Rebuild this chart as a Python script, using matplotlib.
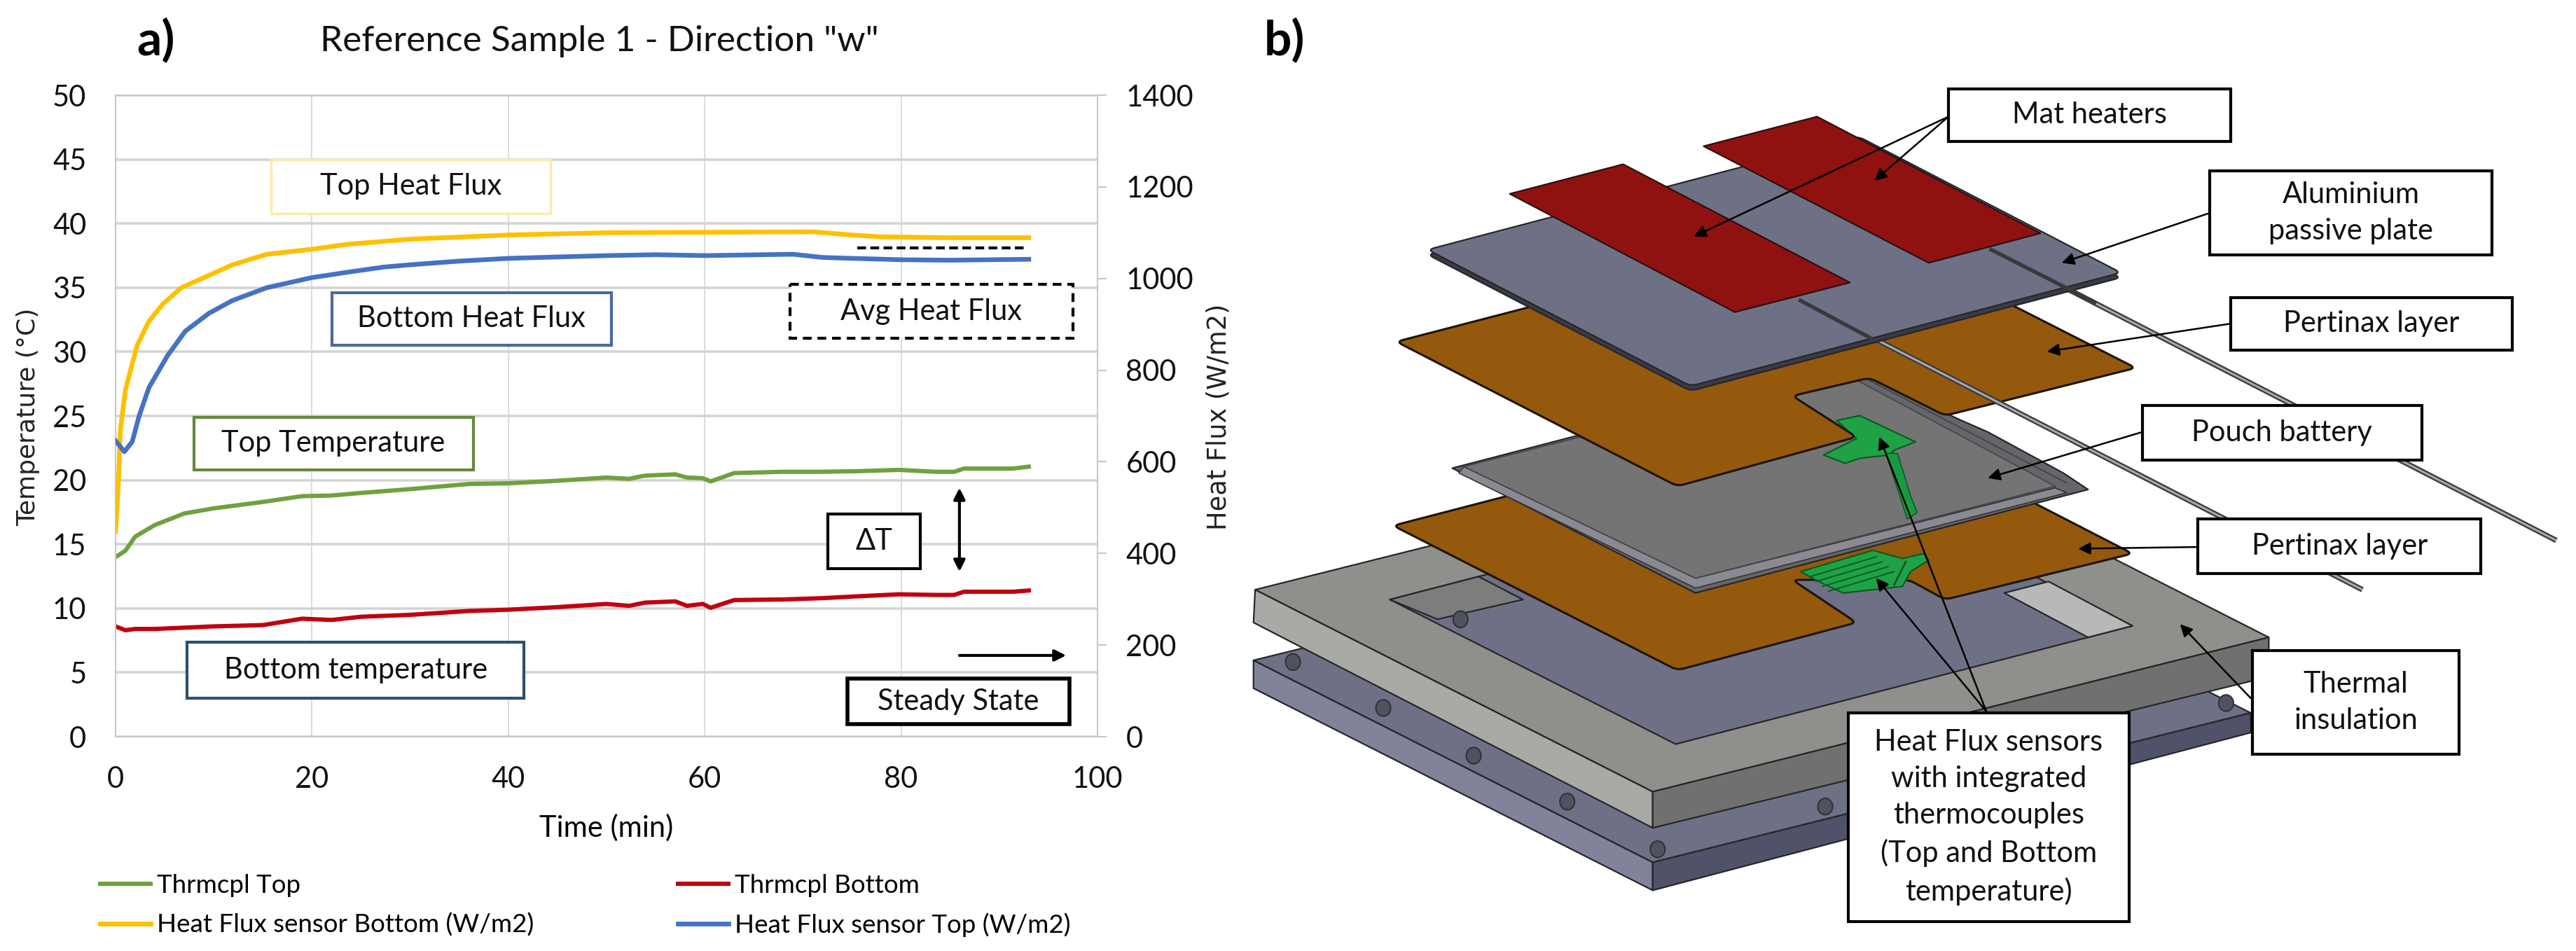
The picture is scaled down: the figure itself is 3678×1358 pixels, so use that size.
import numpy as np
import matplotlib
matplotlib.use('Agg')
import matplotlib.pyplot as plt
from matplotlib.patches import Polygon, Rectangle, Ellipse, PathPatch
from matplotlib.path import Path

plt.rcParams['font.family'] = ['Lato', 'DejaVu Sans']

# values
t_temp = [0, 1, 2, 4, 7, 10, 15, 19, 22, 25, 30, 36, 40, 45, 50, 52.3, 53.9, 57, 58.2, 59.8, 60.6, 63, 68, 72, 75.7, 79.8, 83.5, 85.4, 86.4, 91.4, 93]
temp_top = [14, 14.5, 15.6, 16.5, 17.4, 17.8, 18.3, 18.75, 18.8, 19, 19.3, 19.7, 19.75, 19.95, 20.2, 20.1, 20.35, 20.45, 20.2, 20.15, 19.9, 20.55, 20.65, 20.65, 20.7, 20.8, 20.65, 20.65, 20.9, 20.9, 21.05]
temp_bottom = [8.6, 8.3, 8.4, 8.4, 8.5, 8.6, 8.7, 9.2, 9.1, 9.35, 9.5, 9.8, 9.9, 10.1, 10.35, 10.2, 10.45, 10.55, 10.2, 10.35, 10.05, 10.65, 10.7, 10.8, 10.95, 11.1, 11.05, 11.05, 11.3, 11.3, 11.4]

t_yellow = [0, 0.3, 0.5, 1, 1.6, 2.2, 3.4, 4.8, 6.7, 8.8, 11.9, 15.4, 20, 23.7, 27.3, 30, 40, 50, 60, 71, 75, 78, 85, 93]
flux_yellow = [448, 560, 672, 756, 806, 854, 907, 944, 980, 1000, 1030, 1053, 1064, 1075, 1081, 1086, 1095, 1100, 1101, 1102, 1095, 1091, 1089, 1089]

t_blue = [0, 0.9, 1.7, 2.4, 3.4, 5.3, 7.1, 9.5, 11.9, 15.4, 20, 23.7, 27.3, 30, 35, 40, 50, 55, 60, 66, 69, 72, 75, 80, 85, 93]
flux_blue = [646, 622, 644, 700, 762, 832, 885, 924, 952, 980, 1002, 1014, 1025, 1030, 1038, 1044, 1050, 1052, 1050, 1052, 1053, 1046, 1044, 1041, 1040, 1042]

x_ticks = [0, 20, 40, 60, 80, 100]
temp_ticks = [0, 5, 10, 15, 20, 25, 30, 35, 40, 45, 50]
flux_ticks = [0, 200, 400, 600, 800, 1000, 1200, 1400]

W, H = 3678, 1358
FS = 30
GREEN, RED, YELLOW, BLUE = '#70a040', '#c00010', '#ffc000', '#4472c4'

fig = plt.figure(figsize=(W/100, H/100), dpi=100)
ax = fig.add_axes([165/W, 1-1052/H, (1567-165)/W, (1052-136)/H])
ax.set_xlim(0, 100)
ax.set_ylim(0, 50)
ax.set_xticks(x_ticks)
ax.set_yticks(temp_ticks)
ax.grid(True, axis='y', color='#d4d4d4', lw=2.6)
ax.grid(True, axis='x', color='#d4d4d4', lw=1.2)
ax.set_axisbelow(True)
for s in ax.spines.values():
    s.set_color('#c8c8c8')
    s.set_linewidth(1.5)
ax.tick_params(axis='y', length=0, labelsize=FS, pad=30, labelcolor='#111111')
ax.tick_params(axis='x', length=0, labelsize=FS, pad=30, labelcolor='#111111')
l_top, = ax.plot(t_temp, temp_top, color=GREEN, lw=4.4)
l_bot, = ax.plot(t_temp, temp_bottom, color=RED, lw=4.4)

ax2 = ax.twinx()
ax2.set_ylim(0, 1400)
ax2.set_yticks(flux_ticks)
ax2.tick_params(axis='y', length=9, width=1.5, color='#c8c8c8', labelsize=FS, pad=20, labelcolor='#111111')
for s in ax2.spines.values():
    s.set_visible(False)
l_y, = ax2.plot(t_yellow, flux_yellow, color=YELLOW, lw=4.8)
l_b, = ax2.plot(t_blue, flux_blue, color=BLUE, lw=4.8)

ax.set_xlabel('Time (min)', fontsize=FS, labelpad=22)

leg = fig.legend([l_top, l_y, l_bot, l_b],
                 ['Thrmcpl Top', 'Heat Flux sensor Bottom (W/m2)', 'Thrmcpl Bottom', 'Heat Flux sensor Top (W/m2)'],
                 ncol=2, frameon=False, fontsize=26.5, loc='lower left', bbox_to_anchor=(143/W, 1-1338/H),
                 handlelength=1.95, handletextpad=0.25, columnspacing=5.6, labelspacing=0.6,
                 borderaxespad=0, borderpad=0)

# everything else is placed on a sheet in reference screen units
k = W/1568
ov = fig.add_axes([0, 0, 1, 1])
ov.set_xlim(0, 1568)
ov.set_ylim(H/k, 0)
ov.axis('off')
ov.patch.set_alpha(0)


def poly(pts, fc, ec='#26262a', lw=1.6, z=2):
    ov.add_patch(Polygon(pts, closed=True, fc=fc, ec=ec, lw=lw, zorder=z, joinstyle='round'))


def rounded(pts, fc, ec='#1c1408', lw=2.2, r=4, z=2):
    # polygon with small curved corners, like the CAD sheets
    p = np.array(pts, float)
    verts, codes = [], []
    n = len(p)
    for i in range(n):
        a, b, c = p[i-1], p[i], p[(i+1) % n]
        u = (a-b)/np.linalg.norm(a-b)
        v = (c-b)/np.linalg.norm(c-b)
        verts += [b+u*r, b, b+v*r]
        codes += [Path.MOVETO if i == 0 else Path.LINETO, Path.CURVE3, Path.CURVE3]
    verts.append(verts[0])
    codes.append(Path.CLOSEPOLY)
    ov.add_patch(PathPatch(Path(verts, codes), fc=fc, ec=ec, lw=lw, zorder=z))


def box(x0, y0, x1, y1, text, ec='black', lw=3, ls='-', fs=FS):
    ov.add_patch(Rectangle((x0, y0), x1-x0, y1-y0, fc='white', ec=ec, lw=lw, ls=ls, zorder=20))
    ov.text((x0+x1)/2, (y0+y1)/2, text, ha='center', va='center', fontsize=fs, color='#111111',
            zorder=21, linespacing=1.45)


def arrow(x0, y0, x1, y1, style='-|>', lw=1.8, ms=26):
    ov.annotate('', xy=(x1, y1), xytext=(x0, y0), zorder=15,
                arrowprops=dict(arrowstyle=style, color='black', lw=lw, mutation_scale=ms,
                                shrinkA=0, shrinkB=0))


# panel a annotations
ov.text(95, 25, 'a)', fontsize=50, fontweight='bold', ha='center', va='center')
ov.text(782, 25, 'b)', fontsize=50, fontweight='bold', ha='center', va='center')
ov.text(365, 25, 'Reference Sample 1 - Direction "w"', fontsize=37, ha='center', va='center', color='#111111')
ov.text(17, 254, 'Temperature (°C)', fontsize=26, rotation=90, ha='center', va='center',
        family='DejaVu Sans', color='#222222')
ov.text(742, 254, 'Heat Flux (W/m2)', fontsize=26.5, rotation=90, ha='center', va='center',
        family='DejaVu Sans', color='#222222')

box(165, 97, 335, 130, 'Top Heat Flux', ec='#ffe9a8', lw=2.5)
box(202, 178, 372, 210, 'Bottom Heat Flux', ec='#4a6a9c')
box(481, 173, 653, 206, 'Avg Heat Flux', ls=(0, (3, 2)))
box(118, 254, 288, 286, 'Top Temperature', ec='#64893f')
box(504, 313, 560, 346, 'ΔT')
box(114, 391, 319, 425, 'Bottom temperature', ec='#2c4f70')
box(516, 413, 651, 441, 'Steady State', lw=4)
ov.plot([522, 624], [151, 151], color='black', lw=3, ls=(0, (3, 1.5)), zorder=15)
arrow(584, 297, 584, 348, style='<|-|>', lw=3, ms=24)
arrow(584, 399, 649, 399, lw=3, ms=24)

# panel b, exploded view of the stack
BLUEGREY, BLUESIDE, BLUEDARK = '#6e7186', '#80839a', '#50526a'
# base plate
poly([(763, 402), (1127, 312), (1370, 434), (1006, 525)], BLUEGREY, z=2)
poly([(763, 402), (1006, 525), (1006, 542), (763, 419)], BLUESIDE, z=2)
poly([(1006, 525), (1370, 434), (1370, 446), (1006, 542)], BLUEDARK, z=2)
for bx, by in [(787, 403), (842, 431), (897, 460), (954, 488), (1009, 517), (1111, 491), (1355, 428)]:
    ov.add_patch(Ellipse((bx, by), 9, 10, fc='#50535f', ec='#30323a', lw=1.5, zorder=3))
# insulation frame
poly([(764, 359), (1139, 265), (1381, 388), (1006, 482)], '#8f8f8b', z=4)
poly([(764, 359), (1006, 482), (1006, 504), (763, 379)], '#a9aaa5', z=4)
poly([(1006, 482), (1381, 388), (1381, 412), (1006, 504)], '#707070', z=4)
poly([(846, 365), (1124, 293), (1298, 381), (1020, 453)], BLUEGREY, z=5)
poly([(846, 365), (900, 351), (927, 365), (875, 377)], '#7d7d7d', z=5)
poly([(1220, 361), (1247, 354), (1298, 381), (1271, 388)], '#b8b8b8', z=5)
ov.add_patch(Ellipse((889, 377), 9, 10, fc='#50535f', ec='#30323a', lw=1.5, zorder=5))
# lower pertinax
PERT = '#94590c'
rounded([(848, 320), (1125, 248), (1298, 337), (1184, 365), (1162, 353), (1091, 353), (1130, 379), (1021, 408)], PERT, z=6)
# lower sensor
poly([(1096, 348), (1140, 335), (1158, 340), (1171, 337), (1174, 341), (1163, 348), (1158, 357), (1140, 359), (1122, 361), (1109, 355)],
     '#1fa245', ec='#0d5a24', z=7)
for off in range(0, 24, 6):
    ov.plot([1102+off*0.6, 1142+off*0.6], [351+off*0.5, 339+off*0.5], color='#0d5a24', lw=1.4, zorder=7)
ov.plot([1153, 1160], [356, 342], color='#0d5a24', lw=2, zorder=7)
# battery, outer rim with tabs, then the layered edge and the top face
poly([(884, 285), (1122, 223), (1194, 256), (1210, 263), (1256, 288), (1271, 298), (1032, 361)], '#66666a', z=8)
poly([(888, 288), (1032, 358), (1258, 300), (1251, 297), (1032, 352), (891, 284)], '#8a8a90', ec='#33333a', lw=1.2, z=8)
poly([(891, 284), (1120, 226), (1251, 296), (1032, 352)], '#747474', ec='#44444a', lw=1.2, z=8)
ov.plot([1133, 1258], [229, 294], color='#44444a', lw=1.4, zorder=8)
# upper sensor, tucked under the pertinax notch
poly([(1118, 256), (1132, 253), (1166, 269), (1153, 274), (1150, 277), (1132, 279), (1123, 282), (1110, 277), (1130, 267)],
     '#1fa245', ec='#0d5a24', z=8.5)
poly([(1148, 276), (1155, 276), (1163, 302), (1167, 312), (1161, 316), (1157, 304)], '#1a9a40', ec='#0d5a24', lw=1.2, z=8.5)
# upper pertinax
rounded([(850, 208), (1127, 136), (1300, 224), (1184, 253), (1138, 230), (1091, 241), (1130, 266), (1021, 296)], PERT, z=9)
# leads
for sx0, sy0, sx1, sy1 in [(1212, 152, 1556, 329), (1096, 183, 1438, 359)]:
    ov.plot([sx0, sx1], [sy0, sy1], color='#3a3a3e', lw=5.5, zorder=9.5, solid_capstyle='butt')
    ov.plot([sx0, sx1], [sy0, sy1], color='#a8a8ac', lw=2.2, zorder=9.5, solid_capstyle='butt')
# aluminium plate
rounded([(869, 155), (1131, 86), (1291, 169), (1029, 238)], '#3a3b44', ec='#26262a', lw=1.6, z=10.5)
rounded([(869, 152), (1131, 83), (1291, 166), (1029, 235)], BLUEGREY, ec='#26262a', lw=1.6, z=10.5)
for sx0, sy0, sx1, sy1 in [(1212, 152, 1275, 184), (1096, 183, 1139, 206)]:
    ov.plot([sx0, sx1], [sy0, sy1], color='#3a3a3e', lw=4, zorder=11)
# heaters
poly([(919, 118), (988, 100), (1126, 172), (1056, 190)], '#8f1210', ec='#2a1010', z=12)
poly([(1037, 89), (1106, 71), (1242, 142), (1174, 160)], '#8f1210', ec='#2a1010', z=12)

box(1186, 54, 1358, 86, 'Mat heaters')
box(1345, 104, 1517, 155, 'Aluminium\npassive plate')
box(1358, 181, 1529, 213, 'Pertinax layer')
box(1304, 247, 1474, 280, 'Pouch battery')
box(1338, 316, 1510, 349, 'Pertinax layer')
box(1371, 396, 1497, 459, 'Thermal\ninsulation')
box(1125, 434, 1296, 561, 'Heat Flux sensors\nwith integrated\nthermocouples\n(Top and Bottom\ntemperature)')

arrow(1186, 71, 1031, 144)
arrow(1186, 71, 1141, 110)
arrow(1344, 130, 1255, 160)
arrow(1358, 197, 1246, 214)
arrow(1304, 263, 1210, 291)
arrow(1338, 333, 1265, 334)
arrow(1370, 425, 1327, 380)
arrow(1209, 433, 1142, 352)
arrow(1209, 433, 1144, 266)

fig.savefig('out.png', dpi=100, facecolor='white')
